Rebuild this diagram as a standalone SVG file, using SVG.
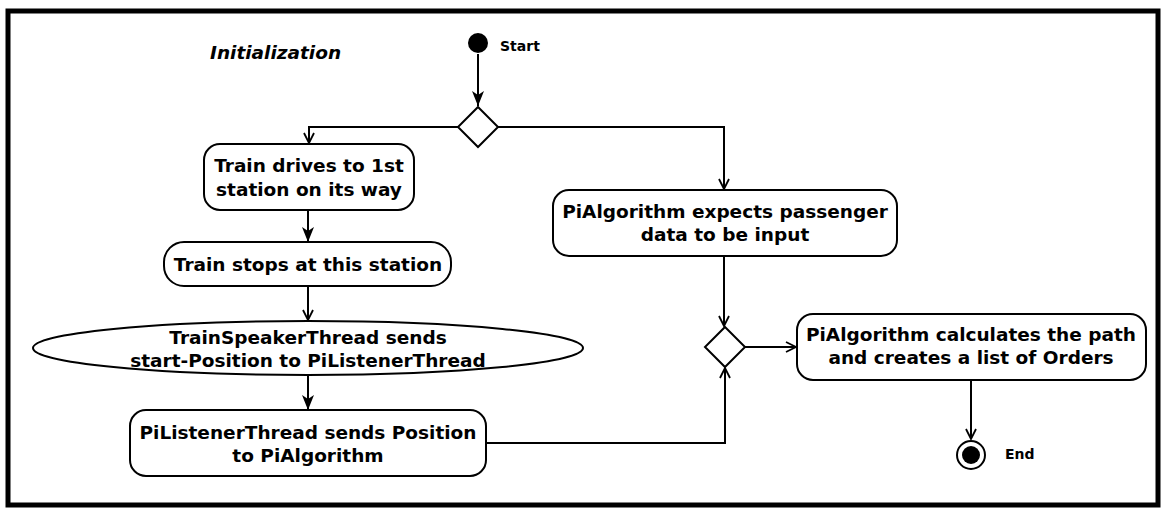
<svg xmlns="http://www.w3.org/2000/svg" width="1170" height="516" viewBox="0 0 1170 516">
<defs>
<style>
.node{fill:#fff;stroke:#000;stroke-width:2}
.t{font-family:"DejaVu Sans",sans-serif;font-weight:bold;font-size:18.5px;fill:#000;text-anchor:middle}
.s{font-family:"DejaVu Sans",sans-serif;font-weight:bold;font-size:14px;fill:#000}
.e{fill:none;stroke:#000;stroke-width:2}
</style>
<marker id="open" viewBox="0 0 12 12" refX="11" refY="6" markerWidth="12" markerHeight="12" markerUnits="userSpaceOnUse" orient="auto">
<path d="M1,1 L11,6 L1,11" fill="none" stroke="#000" stroke-width="1.8"/>
</marker>
<marker id="solid" viewBox="0 0 16 14" refX="15" refY="7" markerWidth="16" markerHeight="14" markerUnits="userSpaceOnUse" orient="auto">
<path d="M0,1 L15,7 L0,13 L4,7 Z" fill="#000"/>
</marker>
</defs>
<rect x="8" y="11" width="1150" height="494" fill="#fff" stroke="#000" stroke-width="5"/>
<text x="210" y="59" class="t" style="text-anchor:start;font-style:italic">Initialization</text>
<g id="connectors">
<path class="e" d="M478,54 L478,106" marker-end="url(#solid)"/>
<path class="e" d="M458,127 L309,127 L309,143" marker-end="url(#open)"/>
<path class="e" d="M498,127 L724,127 L724,189" marker-end="url(#open)"/>
<path class="e" d="M308,210 L308,242" marker-end="url(#solid)"/>
<path class="e" d="M308,286 L308,320" marker-end="url(#open)"/>
<path class="e" d="M308,375 L308,410" marker-end="url(#solid)"/>
<path class="e" d="M724,256 L724,326" marker-end="url(#open)"/>
<path class="e" d="M486,443 L725,443 L725,368" marker-end="url(#open)"/>
<path class="e" d="M745,347 L796,347" marker-end="url(#open)"/>
<path class="e" d="M971,380 L971,439" marker-end="url(#open)"/>
</g>
<g id="start">
<circle cx="478" cy="43" r="10" fill="#000"/>
<text x="500" y="51" class="s">Start</text>
</g>
<g id="decision1">
<polygon class="node" points="478,107 498,127 478,147 458,127"/>
</g>
<g id="train-drives">
<rect class="node" x="204" y="144" width="210" height="66" rx="16"/>
<text x="309" y="172" class="t">Train drives to 1st</text>
<text x="309" y="196" class="t">station on its way</text>
</g>
<g id="train-stops">
<rect class="node" x="164" y="242" width="287" height="44" rx="20"/>
<text x="308" y="271" class="t">Train stops at this station</text>
</g>
<g id="speaker">
<ellipse class="node" cx="308" cy="348" rx="275" ry="27"/>
<text x="308" y="344" class="t">TrainSpeakerThread sends</text>
<text x="308" y="367" class="t">start-Position to PiListenerThread</text>
</g>
<g id="listener">
<rect class="node" x="130" y="410" width="356" height="66" rx="16"/>
<text x="308" y="439" class="t">PiListenerThread sends Position</text>
<text x="308" y="462" class="t">to PiAlgorithm</text>
</g>
<g id="expects">
<rect class="node" x="553" y="190" width="344" height="66" rx="16"/>
<text x="725" y="218" class="t">PiAlgorithm expects passenger</text>
<text x="725" y="241" class="t">data to be input</text>
</g>
<g id="decision2">
<polygon class="node" points="725,327 745,347 725,367 705,347"/>
</g>
<g id="calculates">
<rect class="node" x="797" y="314" width="349" height="66" rx="16"/>
<text x="971" y="341" class="t">PiAlgorithm calculates the path</text>
<text x="971" y="364" class="t">and creates a list of Orders</text>
</g>
<g id="end">
<circle cx="971" cy="455" r="14" fill="#fff" stroke="#000" stroke-width="2"/>
<circle cx="971" cy="455" r="9" fill="#000"/>
<text x="1005" y="459" class="s">End</text>
</g>
</svg>
